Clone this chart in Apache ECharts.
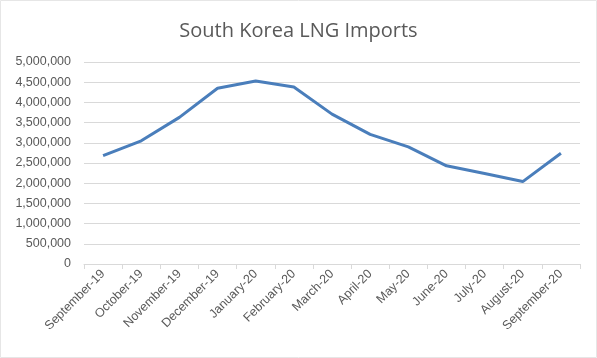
<!DOCTYPE html>
<html><head><meta charset="utf-8">
<script src="https://cdn.jsdelivr.net/npm/echarts@6/dist/echarts.min.js"></script>
<style>html,body{margin:0;padding:0;background:#fff}#c{width:597px;height:358px}</style>
</head><body><div id="c"></div>
<script>
const categories = ["September-19","October-19","November-19","December-19","January-20","February-20","March-20","April-20","May-20","June-20","July-20","August-20","September-20"];
const imports = [2680000,3050000,3630000,4350000,4530000,4380000,3710000,3210000,2900000,2430000,2240000,2040000,2740000];
const chart = echarts.init(document.getElementById('c'));
chart.setOption({
  backgroundColor:'#fff',
  animation:false,
  graphic:[{type:'rect',shape:{x:0.5,y:0.5,width:596,height:357},style:{fill:'none',stroke:'#e6e6e6',lineWidth:1},silent:true}],
  title:{text:'South Korea LNG Imports',left:'center',top:16,textStyle:{fontFamily:'Open Sans',fontSize:20,fontWeight:'normal',color:'#595959'}},
  grid:{left:84,right:17,top:62,bottom:94},
  xAxis:{type:'category',data:categories,boundaryGap:true,
    axisLine:{lineStyle:{color:'#d9d9d9'}},
    axisTick:{show:true,length:5,lineStyle:{color:'#d9d9d9'}},
    axisLabel:{rotate:45,interval:0,color:'#595959',fontFamily:'Liberation Sans',fontSize:12.5,margin:8}},
  yAxis:{type:'value',min:0,max:5000000,interval:500000,
    axisLine:{show:false},axisTick:{show:false},
    splitLine:{lineStyle:{color:'#d9d9d9'}},
    axisLabel:{color:'#595959',fontFamily:'Liberation Sans',fontSize:12.5,margin:13,
      formatter:v=>v.toLocaleString('en-US')}},
  series:[{type:'line',data:imports,symbol:'none',lineStyle:{color:'#4a7ebb',width:3}}]
});
</script></body></html>
